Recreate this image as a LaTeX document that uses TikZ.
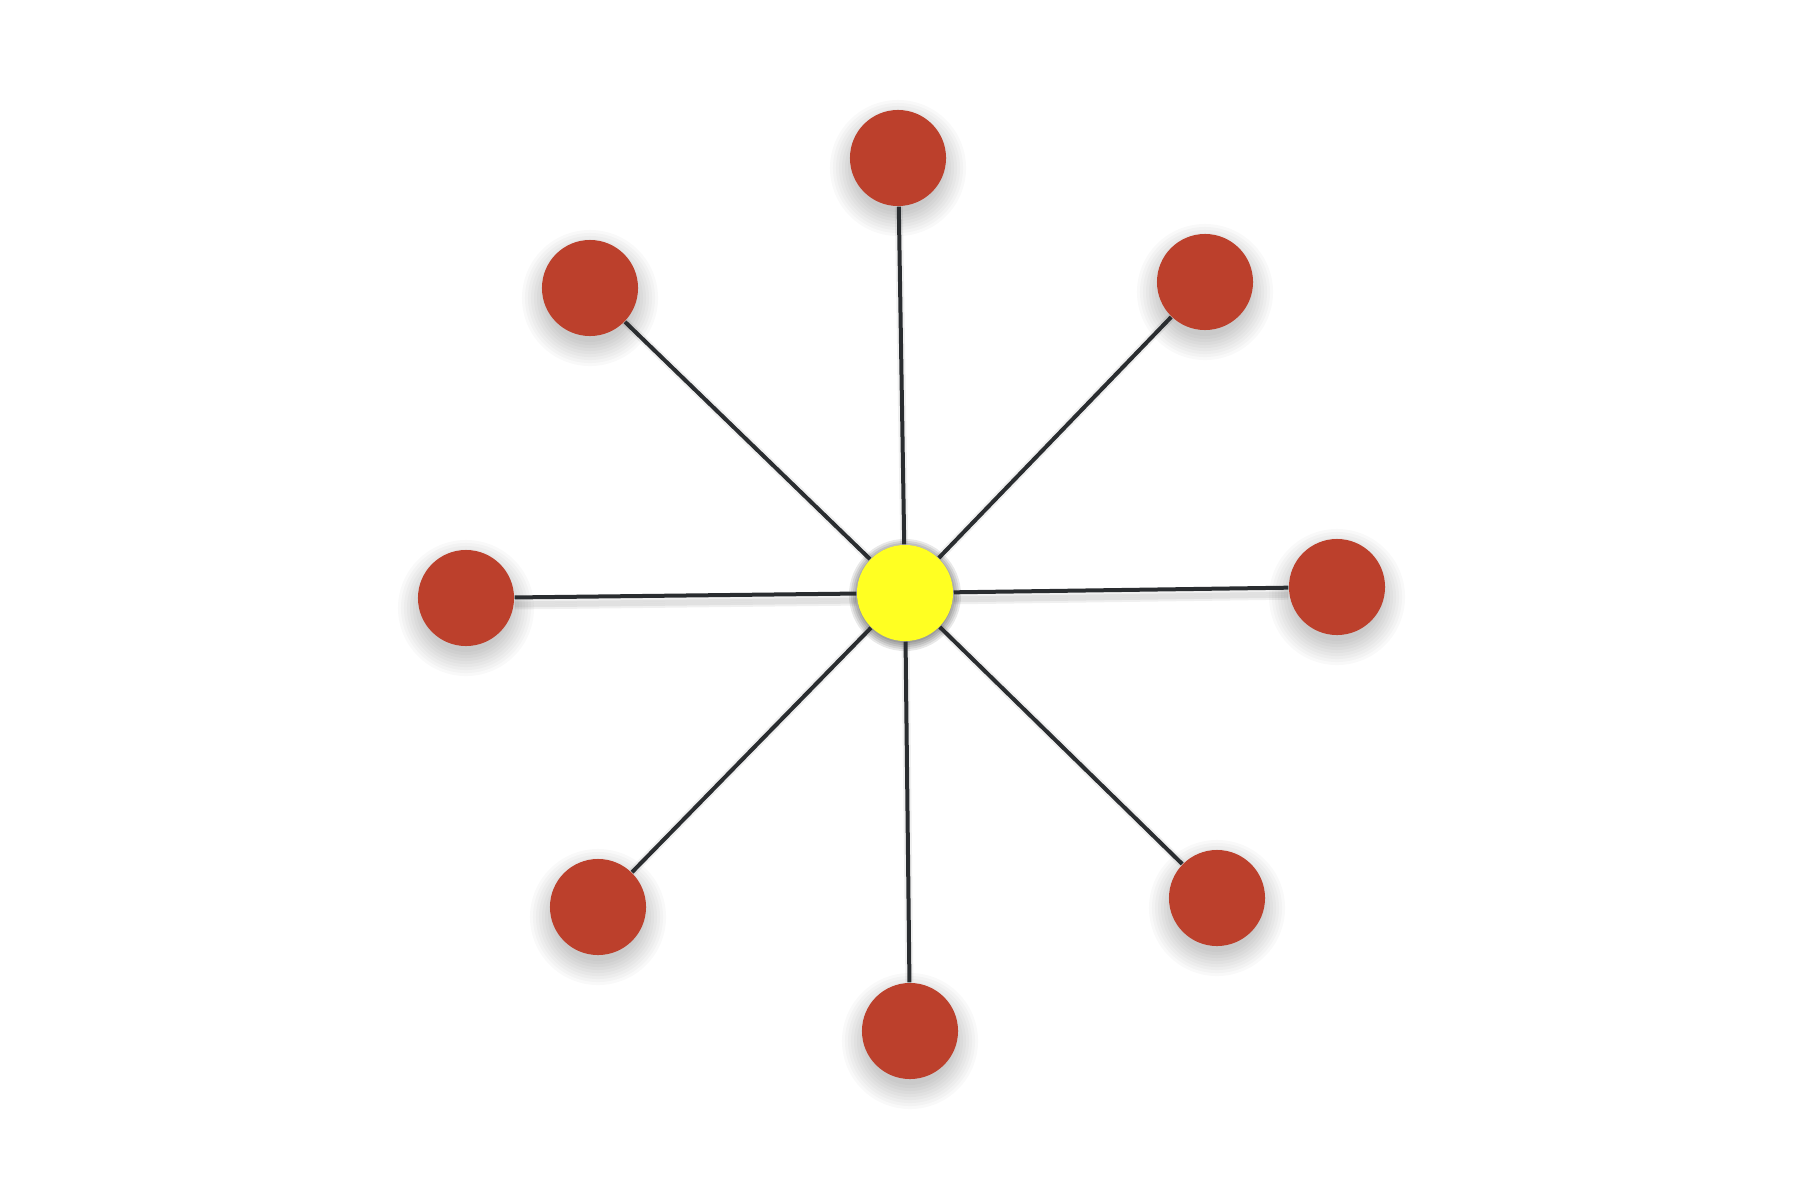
\documentclass[tikz,border=0pt]{standalone}
\usetikzlibrary{backgrounds}
\definecolor{nodered}{HTML}{BC402C}
\definecolor{hubyellow}{HTML}{FFFF22}
\definecolor{spoke}{HTML}{2A2D30}
\tikzset{
  leaf/.style={circle, fill=nodered, minimum size=0.96cm, inner sep=0pt},
  hub/.style={circle, fill=hubyellow, minimum size=0.96cm, inner sep=0pt},
  spokeline/.style={draw=spoke, line width=0.04cm},
  spokeshadow/.style={draw=black, opacity=0.05, line width=0.05cm},
  softshade/.style={fill=black, opacity=0.025}
}
\begin{document}
\begin{tikzpicture}[x=0.01cm, y=-0.01cm]
  \useasboundingbox (0,0) rectangle (1800,1200);
  \node[hub] (c) at (905,593) {};
  \node[leaf] (n) at (898,158) {};
  \node[leaf] (nw) at (590,288) {};
  \node[leaf] (ne) at (1205,282) {};
  \node[leaf] (w) at (466,598) {};
  \node[leaf] (e) at (1337,587) {};
  \node[leaf] (sw) at (598,907) {};
  \node[leaf] (s) at (910,1031) {};
  \node[leaf] (se) at (1217,898) {};
  \begin{scope}[on background layer]
    \fill[white] (0,0) rectangle (1800,1200);
    % soft shadows under the leaves
    \foreach \t in {n,nw,ne,w,e,sw,s,se}{
      \foreach \r in {0.44,0.47,...,0.68}{
        \fill[softshade] ([yshift=-0.1cm]\t.center) circle[radius=\r cm];
      }
    }
    % halo round the hub
    \foreach \r in {0.48,0.50,...,0.58}{
      \fill[fill=black, opacity=0.09] ([yshift=-0.02cm]c.center) circle[radius=\r cm];
    }
    % soft shadows under the horizontal spokes
    \foreach \t in {w,e}{
      \foreach \s in {0.04,0.06,...,0.12}{
        \draw[draw=black, opacity=0.06, line width=0.04cm, transform canvas={yshift=-\s cm}] (c) -- (\t);
      }
    }
    % faint blur along the other spokes
    \foreach \t in {n,nw,ne,sw,s,se}{
      \draw[draw=black, opacity=0.06, line width=0.08cm] (c) -- (\t);
    }
    \foreach \t in {n,nw,ne,w,e,sw,s,se}{
      \draw[spokeline] (c) -- (\t);
    }
  \end{scope}
\end{tikzpicture}
\end{document}
